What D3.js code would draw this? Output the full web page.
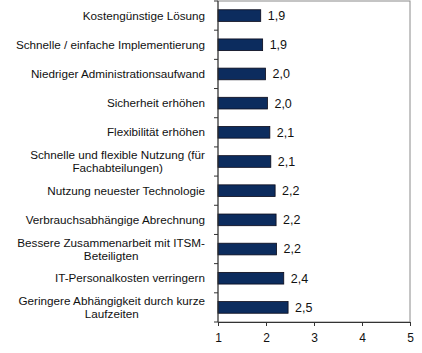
<!DOCTYPE html>
<html>
<head>
<meta charset="utf-8">
<script src="https://cdn.jsdelivr.net/npm/d3@7"></script>
<style>
  body { margin: 0; background: #fff; }
  text { font-family: "Liberation Sans", Arial, sans-serif; fill: #111; }
</style>
</head>
<body>
<script>
const width = 422;
const height = 353;
const plotLeft = 218;
const plotRight = 410;
const plotTop = 1;
const plotBottom = 322;
const barColor = '#0c2c5e';

const categories = [
  ['Kostengünstige Lösung'],
  ['Schnelle / einfache Implementierung'],
  ['Niedriger Administrationsaufwand'],
  ['Sicherheit erhöhen'],
  ['Flexibilität erhöhen'],
  ['Schnelle und flexible Nutzung (für', 'Fachabteilungen)'],
  ['Nutzung neuester Technologie'],
  ['Verbrauchsabhängige Abrechnung'],
  ['Bessere Zusammenarbeit mit ITSM-', 'Beteiligten'],
  ['IT-Personalkosten verringern'],
  ['Geringere Abhängigkeit durch kurze', 'Laufzeiten']
];
const values = [1.89, 1.93, 1.99, 2.03, 2.08, 2.1, 2.19, 2.21, 2.22, 2.37, 2.46];
const xTicks = [1, 2, 3, 4, 5];

const data = categories.map((c, i) => ({ lines: c, value: values[i], key: i }));

const svg = d3.select('body')
  .append('svg')
  .attr('width', width)
  .attr('height', height);

const xScale = d3.scaleLinear()
  .domain([1, 5])
  .range([plotLeft, plotRight]);

const yScale = d3.scaleBand()
  .domain(data.map(d => d.key))
  .range([plotTop, plotBottom])
  .paddingInner(0.6)
  .paddingOuter(0.3);

// plot frame
svg.append('rect')
  .attr('x', plotLeft)
  .attr('y', plotTop)
  .attr('width', plotRight - plotLeft)
  .attr('height', plotBottom - plotTop)
  .attr('fill', 'none')
  .attr('stroke', '#8a8a8a')
  .attr('stroke-width', 1);

svg.selectAll('rect.bar')
  .data(data)
  .enter()
  .append('rect')
  .attr('class', 'bar')
  .attr('x', xScale(1))
  .attr('y', d => yScale(d.key))
  .attr('width', d => xScale(d.value) - xScale(1))
  .attr('height', yScale.bandwidth())
  .attr('fill', barColor)
  .attr('stroke', '#0a0a1a')
  .attr('stroke-width', 0.8);

const fmt = d3.format('.1f');
svg.selectAll('text.value')
  .data(data)
  .enter()
  .append('text')
  .attr('class', 'value')
  .attr('x', d => xScale(d.value) + 7)
  .attr('y', d => yScale(d.key) + yScale.bandwidth() / 2)
  .attr('dy', '0.35em')
  .attr('font-size', 12.5)
  .text(d => fmt(d.value).replace('.', ','));

// category labels: block right aligned, lines centred within the block
const labelRight = 205;
const lineHeight = 13;
const labels = svg.selectAll('g.label')
  .data(data)
  .enter()
  .append('g')
  .attr('class', 'label');

labels.each(function(d) {
  const g = d3.select(this);
  const cy = yScale(d.key) + yScale.bandwidth() / 2;
  const n = d.lines.length;
  const texts = d.lines.map((line, i) => g.append('text')
    .attr('font-size', 11.7)
    .attr('y', cy + (i - (n - 1) / 2) * lineHeight)
    .attr('dy', '0.35em')
    .attr('text-anchor', 'middle')
    .text(line));
  const maxW = d3.max(texts, t => t.node().getComputedTextLength());
  texts.forEach(t => t.attr('x', labelRight - maxW / 2));
});

// y axis with ticks at category boundaries
const boundaries = d3.range(data.length + 1).map(i =>
  i === data.length ? plotBottom : yScale(i) - yScale.step() * yScale.paddingInner() / 2);
svg.append('line')
  .attr('x1', plotLeft).attr('x2', plotLeft)
  .attr('y1', plotTop).attr('y2', plotBottom)
  .attr('stroke', '#333');
svg.selectAll('line.ytick')
  .data(boundaries)
  .enter()
  .append('line')
  .attr('class', 'ytick')
  .attr('x1', plotLeft - 4).attr('x2', plotLeft)
  .attr('y1', d => d).attr('y2', d => d)
  .attr('stroke', '#333');

const xAxis = d3.axisBottom(xScale)
  .tickValues(xTicks)
  .tickSize(4)
  .tickSizeOuter(0)
  .tickFormat(d3.format('d'));

const gx = svg.append('g')
  .attr('transform', 'translate(0,' + plotBottom + ')')
  .call(xAxis);
gx.select('.domain').attr('stroke', '#333');
gx.selectAll('.tick line').attr('stroke', '#333');
gx.selectAll('.tick text')
  .attr('font-size', 12)
  .attr('font-family', '"Liberation Sans", Arial, sans-serif')
  .attr('fill', '#111')
  .attr('dy', '1.1em');
</script>
</body>
</html>
